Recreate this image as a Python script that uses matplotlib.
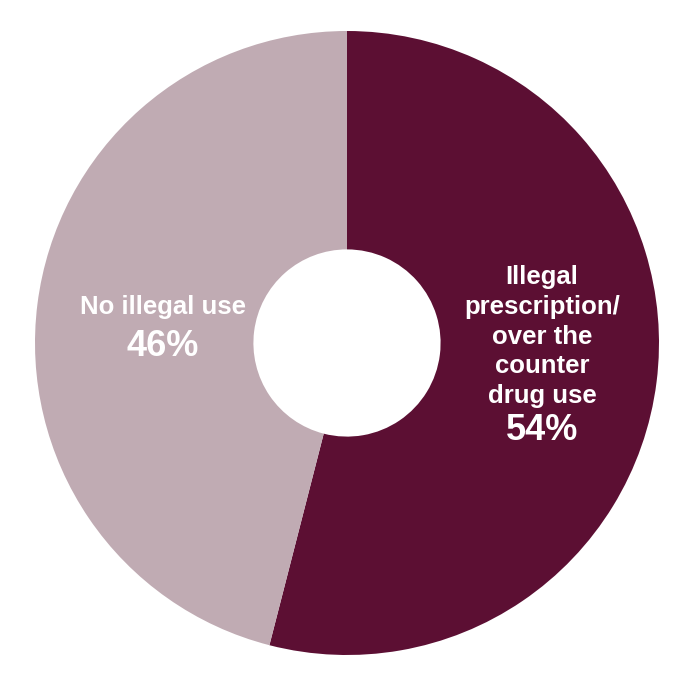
import matplotlib.pyplot as plt

# dados
categorias = ['Illegal\nprescription/\nover the\ncounter\ndrug use', 'No illegal use']
valores = [54, 46]
rotulos_pct = ['54%', '46%']
cores = ['#5c0f33', '#c0abb3']

plt.rcParams['font.family'] = ['Liberation Sans', 'DejaVu Sans']

fig = plt.figure(figsize=(6.92, 6.83), dpi=100)
cx, cy, r = 347, 343, 312
ax = fig.add_axes([(cx - r) / 692, (683 - cy - r) / 683, 2 * r / 692, 2 * r / 683])

ax.pie(valores, colors=cores, startangle=90, counterclock=False, radius=1,
       wedgeprops=dict(width=0.70, linewidth=0))
ax.set_xlim(-1, 1)
ax.set_ylim(-1, 1)
ax.set_aspect('equal')
ax.axis('off')

# rótulos
ax.text(0.625, 0.02, categorias[0], color='white', fontsize=18.5, fontweight='bold',
        ha='center', va='center', linespacing=1.3)
ax.text(0.625, -0.28, rotulos_pct[0], color='white', fontsize=26, fontweight='bold',
        ha='center', va='center')
ax.text(-0.59, 0.115, categorias[1], color='white', fontsize=18.5, fontweight='bold',
        ha='center', va='center')
ax.text(-0.59, -0.01, rotulos_pct[1], color='white', fontsize=26, fontweight='bold',
        ha='center', va='center')

fig.savefig('out.png', dpi=100, facecolor='white')
